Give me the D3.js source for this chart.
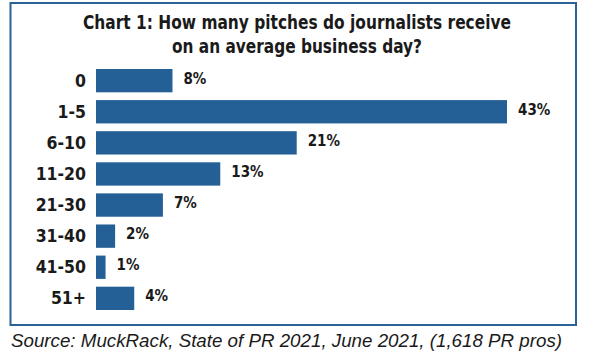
<!DOCTYPE html>
<html><head><meta charset="utf-8">
<script src="https://cdn.jsdelivr.net/npm/d3@7"></script>
<style>
html,body{margin:0;padding:0;background:#fff;}
svg{display:block;}
.cond{font-family:"Liberation Sans Narrow","DejaVu Sans Condensed","Arial Narrow",sans-serif;font-weight:bold;fill:#1a1a1a;}
</style></head>
<body>
<script>
const categories = ["0","1-5","6-10","11-20","21-30","31-40","41-50","51+"];
const values = [8,43,21,13,7,2,1,4];
const valueLabels = ["8%","43%","21%","13%","7%","2%","1%","4%"];
const titleLines = ["Chart 1: How many pitches do journalists receive","on an average business day?"];
const sourceText = "Source: MuckRack, State of PR 2021, June 2021, (1,618 PR pros)";

const W = 600, H = 355;
const svg = d3.select("body").append("svg").attr("width", W).attr("height", H);

svg.append("rect").attr("x",10.5).attr("y",3).attr("width",565.5).attr("height",322)
  .attr("fill","#fff").attr("stroke","#2a6199").attr("stroke-width",2);

const x = d3.scaleLinear().domain([0,43]).range([96,507]);
const y = d3.scaleBand().domain(categories).range([69,310]).paddingInner(0.25).paddingOuter(0.0);

const titleWidths = [428, 250];
const tl = svg.append("g");
titleLines.forEach((t,i)=>{
  tl.append("text").attr("class","cond").attr("x",297).attr("y",29+i*23.5)
    .attr("text-anchor","middle").attr("font-size",20)
    .attr("textLength", titleWidths[i]).attr("lengthAdjust","spacingAndGlyphs").text(t);
});

svg.append("g").selectAll("rect").data(values).join("rect")
  .attr("x", x(0)).attr("y",(d,i)=>y(categories[i]))
  .attr("width", d=>x(d)-x(0)).attr("height", y.bandwidth())
  .attr("fill","#245f96");

svg.append("g").selectAll("text").data(categories).join("text")
  .attr("class","cond").attr("x",86).attr("y",d=>y(d)+y.bandwidth()/2+6)
  .attr("text-anchor","end").attr("font-size",17.5).text(d=>d);

svg.append("g").selectAll("text").data(values).join("text")
  .attr("class","cond").attr("x",d=>x(d)+11).attr("y",(d,i)=>y(categories[i])+y.bandwidth()/2+3)
  .attr("font-size",15).text((d,i)=>valueLabels[i]);

svg.append("text").attr("x",11).attr("y",347)
  .attr("font-family","'Liberation Sans',Arial,sans-serif").attr("font-style","italic")
  .attr("font-size",17.5).attr("fill","#1a1a1a")
  .attr("textLength",551).attr("lengthAdjust","spacingAndGlyphs").text(sourceText);
</script>
</body></html>
